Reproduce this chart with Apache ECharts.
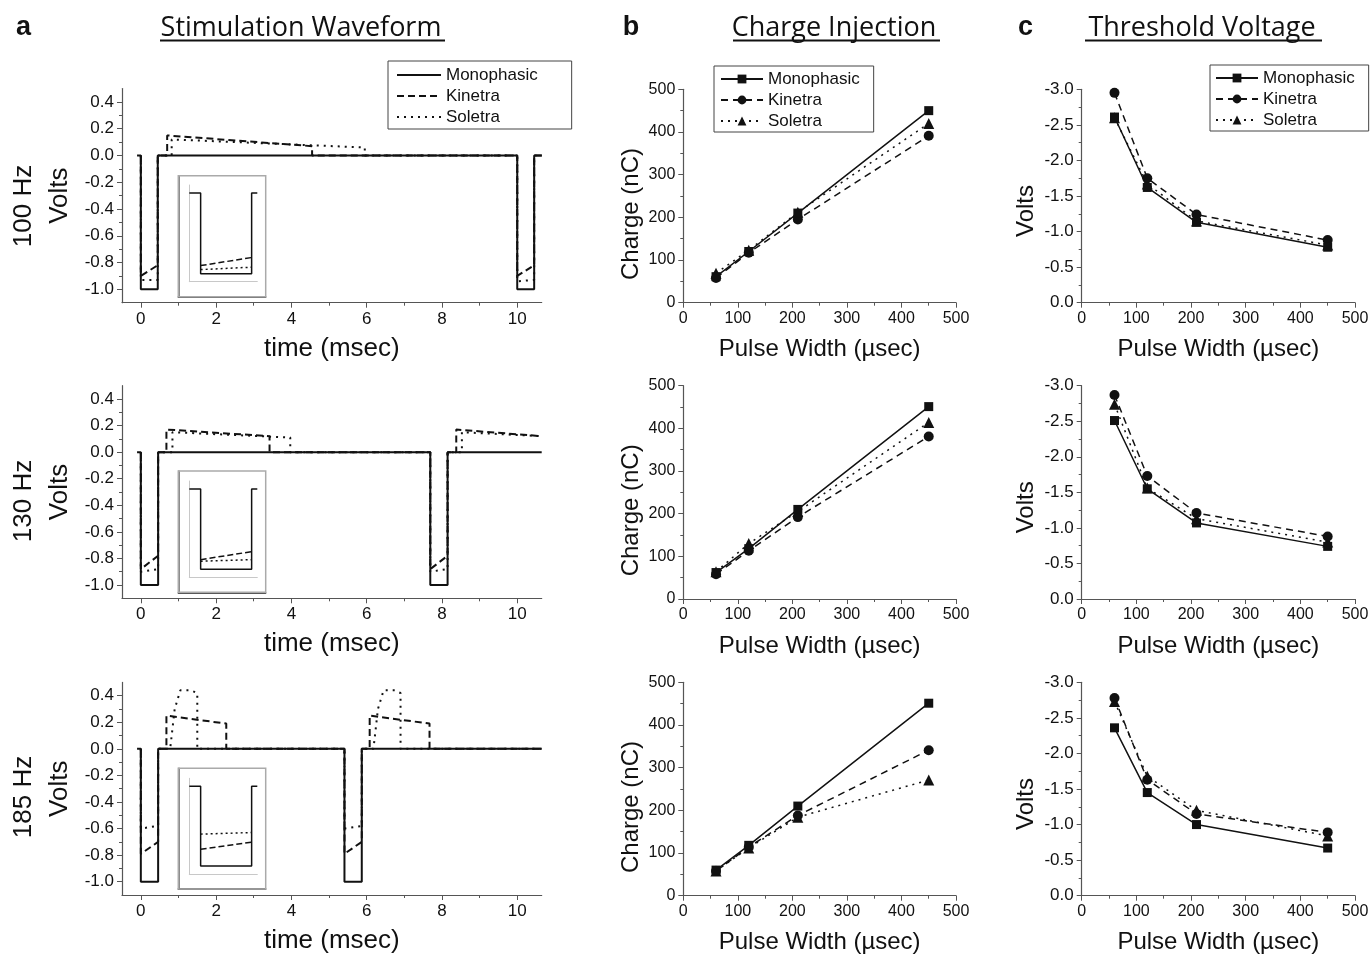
<!DOCTYPE html>
<html style="height: 100%">
<head>
<meta charset="utf-8">
<script src="https://cdn.jsdelivr.net/npm/echarts@6.0.0/dist/echarts.min.js"></script>
</head>
<body style="height: 100%; margin: 0; background: #fff">
<div id="main" style="width: 1372px; height: 956px"></div>
<script type="text/javascript">
var FONT = '"Liberation Sans", Arial, sans-serif';
var TITLE_FONT = '"Open Sans", "Noto Sans", sans-serif';

// ---- column a: stimulation waveforms, [time (msec), volts] ----
var freqLabels = ['100 Hz', '130 Hz', '185 Hz'];
var timeTicks = [0, 2, 4, 6, 8, 10];
var timeMinorTicks = [1, 3, 5, 7, 9];
var voltTicks = [-1.0, -0.8, -0.6, -0.4, -0.2, 0.0, 0.2, 0.4];
var voltMinorTicks = [-0.9, -0.7, -0.5, -0.3, -0.1, 0.1, 0.3];

var mono100 = [[-0.1,0],[0,0],[0,-1],[0.45,-1],[0.45,0],[10,0],[10,-1],[10.45,-1],[10.45,0],[10.65,0]];
var kin100 = [[0,0],[0,-0.9],[0.45,-0.82],[0.45,0],[0.7,0],[0.7,0.15],[4.55,0.07],[4.55,0],[10,0],[10,-0.9],[10.45,-0.82],[10.45,0],[10.65,0]];
var sol100 = [[0,0],[0,-0.93],[0.45,-0.93],[0.45,0],[0.82,0],[0.82,0.12],[5.95,0.06],[5.95,0],[10,0],[10,-0.94],[10.45,-0.93],[10.45,0],[10.65,0]];

var mono130 = [[-0.1,0],[0,0],[0,-1],[0.46,-1],[0.46,0],[7.69,0],[7.69,-1],[8.15,-1],[8.15,0],[10.65,0]];
var kin130 = [[0,0],[0,-0.88],[0.46,-0.78],[0.46,0],[0.68,0],[0.68,0.17],[3.42,0.12],[3.42,0],[7.69,0],[7.69,-0.88],[8.15,-0.78],[8.15,0],[8.38,0],[8.38,0.17],[10.65,0.12]];
var sol130 = [[0,0],[0,-0.9],[0.46,-0.88],[0.46,0],[0.84,0],[0.84,0.15],[3.97,0.11],[3.97,0],[7.69,0],[7.69,-0.9],[8.15,-0.88],[8.15,0],[8.53,0],[8.53,0.15],[10.65,0.12]];

var mono185 = [[-0.1,0],[0,0],[0,-1],[0.46,-1],[0.46,0],[5.41,0],[5.41,-1],[5.87,-1],[5.87,0],[10.65,0]];
var kin185 = [[0,0],[0,-0.79],[0.46,-0.7],[0.46,0],[0.68,0],[0.68,0.25],[2.27,0.19],[2.27,0],[5.41,0],[5.41,-0.79],[5.87,-0.7],[5.87,0],[6.08,0],[6.08,0.25],[7.67,0.19],[7.67,0],[10.65,0]];
var sol185 = [[0,0],[0,-0.6],[0.46,-0.58],[0.46,0],[0.78,0],[0.9,0.3],[1.05,0.44],[1.33,0.44],[1.5,0.42],[1.5,0],[5.41,0],[5.41,-0.6],[5.87,-0.58],[5.87,0],[6.18,0],[6.3,0.3],[6.45,0.44],[6.73,0.44],[6.9,0.42],[6.9,0],[10.65,0]];

// insets: close-up of one pulse
var insetMono = [[-0.1,0],[0,0],[0,-1],[0.45,-1],[0.45,0],[0.5,0]];
var insetKin100 = [[0,-0.9],[0.45,-0.8]];
var insetSol100 = [[0,-0.95],[0.45,-0.92]];
var insetKin130 = [[0,-0.88],[0.45,-0.78]];
var insetSol130 = [[0,-0.9],[0.45,-0.88]];
var insetKin185 = [[0,-0.79],[0.45,-0.7]];
var insetSol185 = [[0,-0.6],[0.45,-0.58]];

// ---- columns b and c: vs pulse width (usec) ----
var pulseWidths = [60, 120, 210, 450];

var chargeMono100 = [61, 120, 210, 450];
var chargeKin100 = [58, 117, 195, 391];
var chargeSol100 = [69, 123, 212, 420];
var chargeMono130 = [62, 118, 210, 451];
var chargeKin130 = [58, 113, 192, 381];
var chargeSol130 = [64, 130, 205, 414];
var chargeMono185 = [60, 118, 210, 451];
var chargeKin185 = [58, 114, 188, 341];
var chargeSol185 = [58, 112, 184, 271];

var threshMono100 = [-2.61, -1.62, -1.13, -0.78];
var threshKin100 = [-2.95, -1.75, -1.24, -0.88];
var threshSol100 = [-2.6, -1.67, -1.15, -0.81];
var threshMono130 = [-2.51, -1.55, -1.07, -0.74];
var threshKin130 = [-2.87, -1.73, -1.21, -0.88];
var threshSol130 = [-2.74, -1.56, -1.13, -0.8];
var threshMono185 = [-2.36, -1.45, -1.0, -0.67];
var threshKin185 = [-2.78, -1.63, -1.15, -0.89];
var threshSol185 = [-2.73, -1.68, -1.2, -0.84];

var waveRows = [[mono100, kin100, sol100], [mono130, kin130, sol130], [mono185, kin185, sol185]];
var insetRows = [[insetMono, insetKin100, insetSol100], [insetMono, insetKin130, insetSol130], [insetMono, insetKin185, insetSol185]];
var chargeRows = [[chargeMono100, chargeKin100, chargeSol100], [chargeMono130, chargeKin130, chargeSol130], [chargeMono185, chargeKin185, chargeSol185]];
var threshRows = [[threshMono100, threshKin100, threshSol100], [threshMono130, threshKin130, threshSol130], [threshMono185, threshKin185, threshSol185]];

var seriesNames = ['Monophasic', 'Kinetra', 'Soletra'];
var symbols = ['rect', 'circle', 'triangle'];
var symbolSizes = [9, 10, 11];

// layout (pixels)
var rows = [
  { aTop: 88.6, aH: 214.1, bTop: 89.3, bH: 213.4, fTop: 175.7, fH: 121, iTop: 185, iH: 96.7, label: 206 },
  { aTop: 385.7, aH: 212.6, bTop: 385.7, bH: 213.3, fTop: 471, fH: 121.3, iTop: 481, iH: 96.3, label: 501 },
  { aTop: 682.4, aH: 212.6, bTop: 682.3, bH: 213.4, fTop: 768.3, fH: 120.7, iTop: 778.3, iH: 95.7, label: 797 }
];

var waveStyles = [
  { type: 'solid', width: 2 },
  { type: [7, 4], width: 2 },
  { type: [2, 5], width: 2 }
];
var insetStyles = [
  { type: 'solid', width: 1.5 },
  { type: [6, 3], width: 1.5 },
  { type: [2, 3], width: 1.5 }
];
var pointStyles = [
  { type: 'solid', width: 1.5 },
  { type: [7, 5], width: 1.5 },
  { type: [2, 5], width: 1.5 }
];

var axisLine = { onZero: false, lineStyle: { color: '#555', width: 1.2 } };
var labelStyle = { color: '#111', fontSize: 16, fontFamily: FONT };
var nameStyle = { color: '#111', fontSize: 24, fontFamily: FONT };
var bigLabel = { color: '#111', fontSize: 17, fontFamily: FONT };
var bigName = { color: '#111', fontSize: 26, fontFamily: FONT };

var grids = [], xAxes = [], yAxes = [], series = [];
function addGrid(g) { g.outerBoundsMode = 'none'; g.containLabel = false; grids.push(g); return grids.length - 1; }
function addX(o) { o.position = 'bottom'; o.offset = 0; xAxes.push(o); return xAxes.length - 1; }
function addY(o) { o.position = 'left'; o.offset = 0; yAxes.push(o); return yAxes.length - 1; }
function plainAxis(gridIndex, min, max, line) {
  return {
    type: 'value', gridIndex: gridIndex, min: min, max: max,
    axisLine: line ? { onZero: false, lineStyle: line } : { show: false },
    axisTick: { show: false }, axisLabel: { show: false }, splitLine: { show: false }
  };
}

rows.forEach(function (r, ri) {
  // --- a: waveform ---
  var ga = addGrid({ left: 122, top: r.aTop, width: 419.7, height: r.aH });
  var xa = addX({
    type: 'value', gridIndex: ga, min: -0.5, max: 10.65,
    name: 'time (msec)', nameLocation: 'middle', nameGap: 33, nameTextStyle: bigName,
    axisLine: axisLine, splitLine: { show: false },
    axisTick: { length: 5, customValues: timeTicks, lineStyle: { color: '#555' } },
    axisLabel: Object.assign({ margin: 8, customValues: timeTicks }, bigLabel)
  });
  addX({
    type: 'value', gridIndex: ga, min: -0.5, max: 10.65,
    axisLine: { show: false, onZero: false }, splitLine: { show: false }, axisLabel: { show: false },
    axisTick: { length: 3, customValues: timeMinorTicks, lineStyle: { color: '#555' } }
  });
  var ya = addY({
    type: 'value', gridIndex: ga, min: -1.1, max: 0.5,
    name: 'Volts', nameLocation: 'middle', nameGap: 49, nameTextStyle: bigName,
    axisLine: axisLine, splitLine: { show: false },
    axisTick: { length: 5, customValues: voltTicks, lineStyle: { color: '#555' } },
    axisLabel: Object.assign({ margin: 8, customValues: voltTicks, formatter: function (v) { return v.toFixed(1); } }, bigLabel)
  });
  addY({
    type: 'value', gridIndex: ga, min: -1.1, max: 0.5,
    axisLine: { show: false, onZero: false }, splitLine: { show: false }, axisLabel: { show: false },
    axisTick: { length: 3, customValues: voltMinorTicks, lineStyle: { color: '#555' } }
  });
  waveRows[ri].forEach(function (d, si) {
    series.push({
      type: 'line', name: seriesNames[si] + '|a', xAxisIndex: xa, yAxisIndex: ya,
      data: d, showSymbol: false, symbol: 'none', z: 3 - si,
      lineStyle: { color: '#111', width: waveStyles[si].width, type: waveStyles[si].type },
      itemStyle: { color: '#111' }
    });
  });

  // --- inset frame and close-up ---
  var gf = addGrid({ left: 178.3, top: r.fTop, width: 87.4, height: r.fH, show: true, borderColor: '#aaa', borderWidth: 1.5, z: 4 });
  addX(plainAxis(gf, 0, 1, { color: '#222', width: 1.5 }));
  addY(plainAxis(gf, 0, 1, { color: '#666', width: 1.5 }));
  var gi = addGrid({ left: 189.3, top: r.iTop, width: 68, height: r.iH });
  var xi = addX(plainAxis(gi, -0.1, 0.5, { color: '#c8c8c8', width: 1 }));
  var yi = addY(plainAxis(gi, -1.1, 0.1, { color: '#c8c8c8', width: 1 }));
  insetRows[ri].forEach(function (d, si) {
    series.push({
      type: 'line', name: 'inset' + si, xAxisIndex: xi, yAxisIndex: yi,
      data: d, showSymbol: false, symbol: 'none', z: 5,
      lineStyle: { color: '#111', width: insetStyles[si].width, type: insetStyles[si].type }
    });
  });

  // --- b: charge injection ---
  var gb = addGrid({ left: 683.3, top: r.bTop, width: 272.7, height: r.bH });
  var xb = addX({
    type: 'value', gridIndex: gb, min: 0, max: 500, interval: 100,
    name: 'Pulse Width (\u00b5sec)', nameLocation: 'middle', nameGap: 35, nameTextStyle: nameStyle,
    axisLine: axisLine, splitLine: { show: false },
    axisTick: { length: 5, lineStyle: { color: '#555' } },
    minorTick: { show: true, splitNumber: 2, length: 3, lineStyle: { color: '#555' } },
    axisLabel: Object.assign({ margin: 8 }, labelStyle)
  });
  var yb = addY({
    type: 'value', gridIndex: gb, min: 0, max: 500, interval: 100,
    name: 'Charge (nC)', nameLocation: 'middle', nameGap: 40,
    nameTextStyle: Object.assign({ padding: [0, 36, 0, 0] }, nameStyle),
    axisLine: axisLine, splitLine: { show: false },
    axisTick: { length: 5, lineStyle: { color: '#555' } },
    minorTick: { show: true, splitNumber: 2, length: 3, lineStyle: { color: '#555' } },
    axisLabel: Object.assign({ margin: 8 }, labelStyle)
  });
  chargeRows[ri].forEach(function (vals, si) {
    series.push({
      type: 'line', name: seriesNames[si] + '|b', xAxisIndex: xb, yAxisIndex: yb,
      data: pulseWidths.map(function (p, i) { return [p, vals[i]]; }),
      symbol: symbols[si], symbolSize: symbolSizes[si], z: 3 - si,
      lineStyle: { color: '#111', width: pointStyles[si].width, type: pointStyles[si].type },
      itemStyle: { color: '#111' }
    });
  });

  // --- c: threshold voltage ---
  var gc = addGrid({ left: 1081.7, top: r.bTop, width: 273.3, height: r.bH });
  var xc = addX({
    type: 'value', gridIndex: gc, min: 0, max: 500, interval: 100,
    name: 'Pulse Width (\u00b5sec)', nameLocation: 'middle', nameGap: 35, nameTextStyle: nameStyle,
    axisLine: axisLine, splitLine: { show: false },
    axisTick: { length: 5, lineStyle: { color: '#555' } },
    minorTick: { show: true, splitNumber: 2, length: 3, lineStyle: { color: '#555' } },
    axisLabel: Object.assign({ margin: 8 }, labelStyle)
  });
  var yc = addY({
    type: 'value', gridIndex: gc, min: -3, max: 0, interval: 0.5, inverse: true,
    name: 'Volts', nameLocation: 'middle', nameGap: 43,
    nameTextStyle: Object.assign({ padding: [0, 30, 0, 0] }, nameStyle),
    axisLine: axisLine, splitLine: { show: false },
    axisTick: { length: 5, lineStyle: { color: '#555' } },
    minorTick: { show: true, splitNumber: 2, length: 3, lineStyle: { color: '#555' } },
    axisLabel: Object.assign({ margin: 8, formatter: function (v) { return v.toFixed(1); } }, bigLabel)
  });
  threshRows[ri].forEach(function (vals, si) {
    series.push({
      type: 'line', name: seriesNames[si] + '|c', xAxisIndex: xc, yAxisIndex: yc,
      data: pulseWidths.map(function (p, i) { return [p, vals[i]]; }),
      symbol: symbols[si], symbolSize: symbolSizes[si], z: 3 - si,
      lineStyle: { color: '#111', width: pointStyles[si].width, type: pointStyles[si].type },
      itemStyle: { color: '#111' }
    });
  });
});

function legendFor(col, left, top, padding, itemWidth, extra) {
  return Object.assign({
    orient: 'vertical', left: left, top: top, padding: padding,
    data: seriesNames.map(function (n) { return n + '|' + col; }),
    formatter: function (name) { return name.split('|')[0]; },
    itemWidth: itemWidth, itemHeight: 11, itemGap: 3, itemTextGap: 5,
    borderColor: '#444', borderWidth: 1, backgroundColor: '#fff',
    selectedMode: false,
    textStyle: { color: '#111', fontSize: 17, fontFamily: FONT, lineHeight: 18 }
  }, extra || {});
}

function text(x, y, s, size, opts) {
  opts = opts || {};
  return {
    type: 'text', x: x, y: y, rotation: opts.rotation || 0, z: 10,
    style: {
      text: s, fill: '#111', fontSize: size, fontFamily: opts.family || FONT, fontWeight: opts.weight || 'normal',
      align: 'center', verticalAlign: 'middle', textAlign: 'center', textVerticalAlign: 'middle'
    }
  };
}
function underline(x1, x2, y) {
  return { type: 'line', z: 10, shape: { x1: x1, y1: y, x2: x2, y2: y }, style: { stroke: '#111', lineWidth: 2 } };
}

var graphics = [
  text(23.5, 28, 'a', 27, { weight: 'bold' }),
  text(631, 28, 'b', 27, { weight: 'bold' }),
  text(1025.5, 28, 'c', 27, { weight: 'bold' }),
  text(301, 28, 'Stimulation Waveform', 27, { family: TITLE_FONT }),
  text(834, 28, 'Charge Injection', 27, { family: TITLE_FONT }),
  text(1202, 28, 'Threshold Voltage', 27, { family: TITLE_FONT }),
  underline(160, 445, 40.5),
  underline(733, 940, 40.5),
  underline(1085, 1322, 40.5)
];
rows.forEach(function (r, ri) {
  graphics.push(text(24, r.label, freqLabels[ri], 26, { rotation: Math.PI / 2 }));
});

var myChart = echarts.init(document.getElementById('main'));
myChart.setOption({
  backgroundColor: '#fff',
  animation: false,
  textStyle: { fontFamily: FONT },
  grid: grids,
  xAxis: xAxes,
  yAxis: yAxes,
  legend: [
    legendFor('a', 388, 61, [5, 34, 3, 8], 44, { itemStyle: { opacity: 0 }, itemTextGap: 7 }),
    legendFor('b', 714, 66, [4, 14, 2, 6], 42),
    legendFor('c', 1210, 65, [4, 14, 2, 5], 42)
  ],
  graphic: graphics,
  series: series
});
</script>
</body>
</html>
